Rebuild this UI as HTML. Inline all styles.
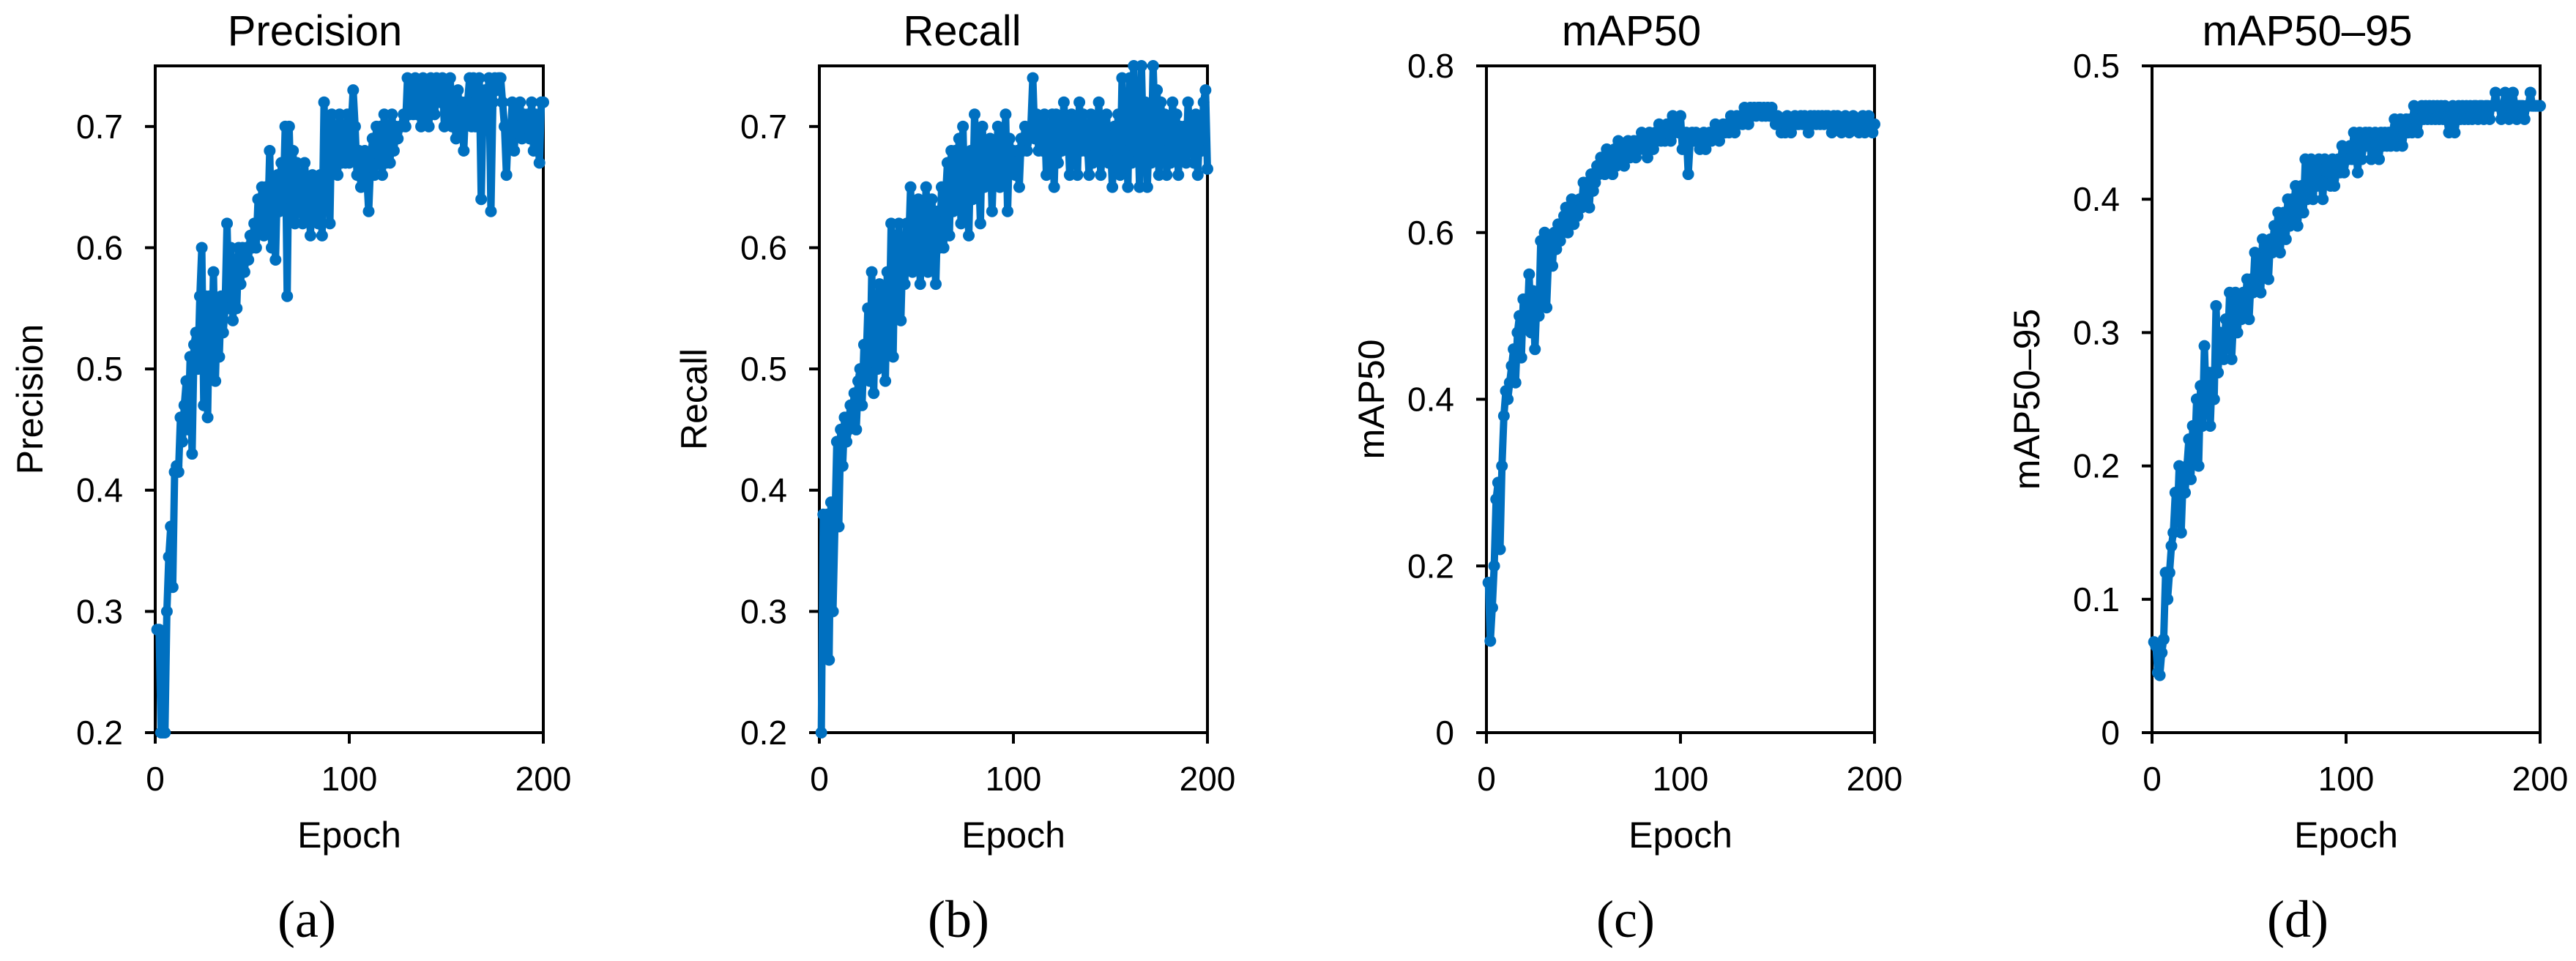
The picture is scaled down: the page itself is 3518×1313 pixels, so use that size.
<!DOCTYPE html>
<html><head><meta charset="utf-8"><style>
html,body{margin:0;padding:0;background:#fff;}
svg{display:block;}
text{font-family:"Liberation Sans",Arial,sans-serif;fill:#000;}
.lt{font-family:"Liberation Serif","Times New Roman",serif;}
</style></head><body>
<svg id="fig" width="3518" height="1313" viewBox="0 0 3518 1313" xmlns="http://www.w3.org/2000/svg"></svg>
<script>
const precisionValues = [
.285,.285,.2,.2,.2,.3,.345,.37,.32,.415,
.42,.415,.46,.44,.47,.49,.45,.51,.43,.52,
.53,.5,.56,.6,.47,.56,.46,.56,.5,.58,
.49,.55,.51,.56,.53,.55,.62,.55,.6,.54,
.59,.55,.6,.57,.6,.58,.6,.59,.61,.6,
.62,.6,.64,.62,.65,.61,.65,.62,.68,.6,
.64,.59,.66,.63,.67,.64,.7,.56,.7,.64,
.68,.62,.67,.64,.66,.62,.67,.64,.65,.61,
.66,.64,.65,.62,.66,.61,.72,.65,.7,.62,
.71,.67,.69,.66,.71,.67,.7,.67,.71,.67,
.7,.73,.7,.66,.68,.65,.67,.68,.66,.63,
.67,.69,.66,.7,.67,.7,.66,.71,.67,.7,
.67,.71,.68,.7,.69,.7,.7,.71,.7,.74,
.71,.72,.71,.74,.71,.72,.7,.74,.71,.73,
.7,.74,.72,.71,.74,.73,.72,.74,.7,.73,
.71,.74,.7,.72,.69,.73,.7,.72,.68,.72,
.72,.74,.7,.74,.7,.72,.74,.64,.72,.73,
.71,.74,.63,.72,.74,.73,.74,.74,.72,.7,
.66,.7,.69,.72,.68,.71,.7,.72,.69,.71,
.7,.71,.69,.72,.68,.71,.7,.67,.72,.72];
const recallValues = [
.2,.38,.3,.38,.26,.39,.3,.37,.44,.37,
.45,.42,.46,.44,.45,.47,.46,.48,.45,.49,
.5,.47,.52,.5,.55,.49,.58,.48,.56,.5,
.57,.53,.56,.49,.58,.53,.62,.51,.61,.55,
.62,.54,.6,.57,.62,.6,.65,.58,.62,.6,
.64,.57,.63,.6,.65,.58,.62,.64,.6,.57,
.63,.6,.65,.6,.64,.67,.61,.68,.63,.68,
.64,.69,.62,.7,.63,.66,.61,.68,.64,.71,
.66,.67,.62,.7,.65,.68,.67,.69,.63,.68,
.66,.7,.65,.68,.66,.71,.63,.69,.67,.68,
.66,.68,.65,.69,.68,.7,.68,.69,.7,.74,
.69,.71,.68,.7,.68,.71,.66,.7,.68,.71,
.65,.71,.67,.7,.68,.72,.69,.7,.66,.71,
.69,.7,.66,.72,.68,.71,.68,.69,.66,.71,
.67,.7,.68,.72,.66,.69,.68,.71,.67,.69,
.65,.7,.68,.71,.66,.74,.68,.72,.65,.74,
.67,.75,.68,.71,.65,.75,.68,.72,.65,.7,
.67,.75,.7,.73,.66,.72,.68,.71,.66,.7,
.67,.72,.69,.71,.66,.7,.68,.7,.67,.72,
.68,.7,.67,.71,.66,.7,.68,.72,.73,.665];
const map50Values = [
.18,.11,.15,.2,.28,.3,.22,.32,.38,.41,
.4,.42,.44,.46,.42,.48,.5,.45,.52,.5,
.49,.55,.48,.53,.46,.52,.5,.59,.52,.6,
.51,.57,.59,.56,.6,.58,.61,.59,.6,.62,
.63,.6,.62,.64,.61,.63,.62,.64,.63,.66,
.64,.66,.63,.67,.65,.66,.68,.67,.69,.68,
.67,.7,.68,.69,.67,.7,.68,.71,.69,.7,
.68,.7,.71,.69,.7,.71,.69,.71,.7,.72,
.7,.71,.69,.72,.71,.7,.72,.71,.73,.71,
.72,.71,.73,.72,.71,.74,.72,.73,.72,.74,
.7,.71,.72,.67,.71,.72,.71,.72,.71,.7,
.71,.72,.7,.71,.72,.71,.72,.73,.72,.71,
.72,.73,.72,.73,.72,.74,.73,.72,.74,.73,
.74,.73,.75,.74,.73,.75,.74,.75,.74,.75,
.75,.74,.75,.74,.75,.74,.75,.74,.73,.74,
.73,.72,.73,.72,.74,.73,.72,.73,.74,.73,
.73,.74,.73,.74,.73,.72,.74,.73,.74,.73,
.74,.73,.74,.73,.74,.74,.73,.72,.74,.73,
.74,.73,.72,.73,.74,.73,.72,.73,.74,.73,
.73,.72,.73,.74,.72,.73,.74,.73,.72,.73];
const map5095Values = [
.068,.065,.045,.043,.06,.07,.12,.1,.12,.14,
.15,.18,.16,.2,.15,.19,.18,.2,.22,.19,
.23,.21,.25,.2,.26,.23,.29,.24,.27,.23,
.27,.25,.32,.27,.3,.29,.28,.31,.29,.33,
.28,.31,.33,.3,.32,.31,.33,.32,.34,.31,
.34,.33,.36,.34,.35,.33,.37,.35,.36,.34,
.37,.36,.38,.37,.39,.36,.38,.39,.37,.4,
.38,.4,.39,.41,.38,.4,.41,.39,.43,.4,
.41,.43,.4,.42,.41,.43,.42,.4,.43,.42,
.42,.41,.43,.41,.42,.43,.42,.44,.42,.43,
.43,.44,.43,.45,.44,.42,.45,.43,.44,.45,
.44,.45,.43,.44,.45,.44,.43,.45,.44,.45,
.44,.45,.44,.45,.46,.44,.45,.46,.44,.45,
.46,.45,.46,.45,.47,.46,.45,.46,.47,.46,
.47,.46,.47,.46,.47,.46,.47,.46,.47,.46,
.47,.46,.45,.46,.47,.45,.46,.47,.46,.47,
.46,.47,.46,.47,.46,.47,.47,.46,.47,.47,
.46,.47,.47,.46,.47,.47,.48,.47,.47,.46,
.47,.48,.47,.46,.47,.48,.47,.46,.47,.47,
.47,.46,.47,.47,.48,.47,.47,.47,.47,.47];
const xTickLabels = ["0","100","200"];
const xTickValues = [0,100,200];
const yTicksA = ["0.2","0.3","0.4","0.5","0.6","0.7"];
const yTicksB = ["0.2","0.3","0.4","0.5","0.6","0.7"];
const yTicksC = ["0","0.2","0.4","0.6","0.8"];
const yTicksD = ["0","0.1","0.2","0.3","0.4","0.5"];

const NS = "http://www.w3.org/2000/svg";
const svg = document.getElementById('fig');
function mk(tag, attrs, parent){
  const e = document.createElementNS(NS, tag);
  for (const k in attrs) e.setAttribute(k, attrs[k]);
  (parent||svg).appendChild(e);
  return e;
}
const panels = [
  {key:'precision', title:'Precision', ylab:'Precision', letter:'(a)', left:212, ymin:0.2, ymax:0.75, ticks:yTicksA, data:precisionValues, titleX:430, letterX:419, ylabOff:172},
  {key:'recall', title:'Recall', ylab:'Recall', letter:'(b)', left:1119, ymin:0.2, ymax:0.75, ticks:yTicksB, data:recallValues, titleX:1314, letterX:1309, ylabOff:172},
  {key:'map50', title:'mAP50', ylab:'mAP50', letter:'(c)', left:2030, ymin:0, ymax:0.8, ticks:yTicksC, data:map50Values, titleX:2228, letterX:2220, ylabOff:158},
  {key:'map50-95', title:'mAP50\u201395', ylab:'mAP50\u201395', letter:'(d)', left:2939, ymin:0, ymax:0.5, ticks:yTicksD, data:map5095Values, titleX:3151, letterX:3138, ylabOff:172}
];
const W = 530, TOP = 90, BOT = 1001;
panels.forEach(p => {
  const g = mk('g', {});
  
  
  const xs = v => p.left + v / 200 * W;
  const ys = v => BOT - (v - p.ymin) / (p.ymax - p.ymin) * (BOT - TOP);
  const fr = mk('rect', {x:p.left, y:TOP, width:W, height:BOT-TOP, fill:'none', stroke:'#000', 'stroke-width':4}, g);
  
  
  p.ticks.forEach(t => {
    const v = parseFloat(t), y = ys(v);
    const tk = mk('line', {x1:p.left-14, x2:p.left, y1:y, y2:y, stroke:'#000', 'stroke-width':4}, g);
    
    
    const tl = mk('text', {x:p.left-44, y:y+16, 'text-anchor':'end', 'font-size':46}, g);
    tl.textContent = t;
    
    
  });
  xTickValues.forEach((v, i) => {
    const x = xs(v);
    const tk = mk('line', {x1:x, x2:x, y1:BOT, y2:BOT+15, stroke:'#000', 'stroke-width':4}, g);
    
    
    const tl = mk('text', {x:x, y:1080, 'text-anchor':'middle', 'font-size':46}, g);
    tl.textContent = xTickLabels[i];
    
    
  });
  const pts = p.data.map((v, i) => xs(i + 1) + ',' + ys(v)).join(' ');
  const line = mk('polyline', {points:pts, fill:'none', stroke:'#0070C0', 'stroke-width':10, 'stroke-linejoin':'round'}, g);
  
  
  p.data.forEach((v, i) => {
    const c = mk('circle', {cx:xs(i + 1), cy:ys(v), r:8, fill:'#0070C0'}, g);
    
    
  });
  const tt = mk('text', {x:p.titleX, y:62, 'text-anchor':'middle', 'font-size':58}, g);
  tt.textContent = p.title;
  
  
  const xl = mk('text', {x:p.left + W/2, y:1158, 'text-anchor':'middle', 'font-size':50}, g);
  xl.textContent = 'Epoch';
  
  
  const yx = p.left - p.ylabOff + 18, yy = (TOP + BOT) / 2;
  const yl = mk('text', {x:yx, y:yy, 'text-anchor':'middle', 'font-size':50, transform:'rotate(-90 ' + yx + ' ' + yy + ')'}, g);
  yl.textContent = p.ylab;
  
  
  const lt = mk('text', {x:p.letterX, y:1280, 'text-anchor':'middle', 'font-size':72, class:'lt'}, g);
  lt.textContent = p.letter;
  
  
});
</script>
</body></html>
